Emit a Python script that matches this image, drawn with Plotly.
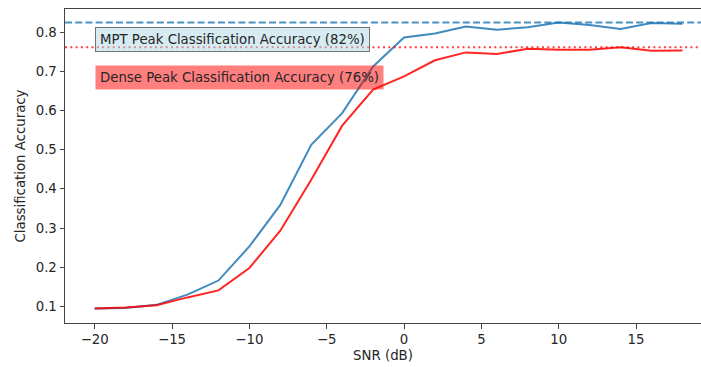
import plotly.graph_objects as go

snr = [-20, -18, -16, -14, -12, -10, -8, -6, -4, -2, 0, 2, 4, 6, 8, 10, 12, 14, 16, 18]
mpt_acc = [0.095, 0.096, 0.104, 0.130, 0.166, 0.253, 0.359, 0.512, 0.593, 0.712, 0.786,
           0.796, 0.814, 0.806, 0.812, 0.8245, 0.818, 0.808, 0.823, 0.821]
dense_acc = [0.095, 0.097, 0.103, 0.123, 0.141, 0.198, 0.293, 0.423, 0.561, 0.653, 0.687,
             0.728, 0.748, 0.744, 0.757, 0.755, 0.755, 0.761, 0.752, 0.753]
mpt_peak = 0.8245
dense_peak = 0.761
mpt_label = "MPT Peak Classification Accuracy (82%)"
dense_label = "Dense Peak Classification Accuracy (76%)"
x_ticks = [-20, -15, -10, -5, 0, 5, 10, 15]
y_ticks = [0.1, 0.2, 0.3, 0.4, 0.5, 0.6, 0.7, 0.8]

BLUE = "#1f77b4"
RED = "#ff0000"
FONT = "DejaVu Sans"
FS = 13.3
TXT = "#262626"

fig = go.Figure()
fig.add_trace(go.Scatter(x=snr, y=mpt_acc, mode="lines",
                         line=dict(color=BLUE, width=2), opacity=0.85, showlegend=False))
fig.add_trace(go.Scatter(x=snr, y=dense_acc, mode="lines",
                         line=dict(color=RED, width=2), opacity=0.85, showlegend=False))

fig.add_shape(type="line", xref="x domain", yref="y", x0=0, x1=1, y0=mpt_peak, y1=mpt_peak,
              line=dict(color=BLUE, width=2, dash="7px,3.2px"), opacity=0.8)
fig.add_shape(type="line", xref="x domain", yref="y", x0=0, x1=1, y0=dense_peak, y1=dense_peak,
              line=dict(color=RED, width=2, dash="2px,3.3px"), opacity=0.75)

fig.add_annotation(x=-19.95, y=0.782, xref="x", yref="y", text=mpt_label, showarrow=False,
                   xanchor="left", yanchor="middle",
                   font=dict(family=FONT, size=FS, color=TXT),
                   bgcolor="rgba(173,216,230,0.5)", bordercolor="rgba(60,60,60,0.7)",
                   borderwidth=1, borderpad=4)
fig.add_annotation(x=-19.95, y=0.685, xref="x", yref="y", text=dense_label, showarrow=False,
                   xanchor="left", yanchor="middle",
                   font=dict(family=FONT, size=FS, color=TXT),
                   bgcolor="rgba(255,0,0,0.5)", bordercolor="rgba(255,0,0,0.0)",
                   borderwidth=1, borderpad=4)

axis_common = dict(showline=True, linecolor="#444", linewidth=1, mirror=True,
                   ticks="outside", ticklen=4.5, tickwidth=1, tickcolor="#444",
                   showgrid=False, zeroline=False,
                   tickfont=dict(family=FONT, size=FS, color=TXT))

fig.update_xaxes(range=[-21.92, 19.2], tickvals=x_ticks,
                 title=dict(text="SNR (dB)", font=dict(family=FONT, size=FS, color=TXT), standoff=4),
                 **axis_common)
fig.update_yaxes(range=[0.0577, 0.8587], tickvals=y_ticks, tickformat=".1f",
                 title=dict(text="Classification Accuracy", font=dict(family=FONT, size=FS, color=TXT), standoff=7),
                 **axis_common)

fig.update_layout(width=701, height=367, margin=dict(l=65, r=0, t=9, b=44),
                  plot_bgcolor="white", paper_bgcolor="white")

fig.write_html("out.html")
